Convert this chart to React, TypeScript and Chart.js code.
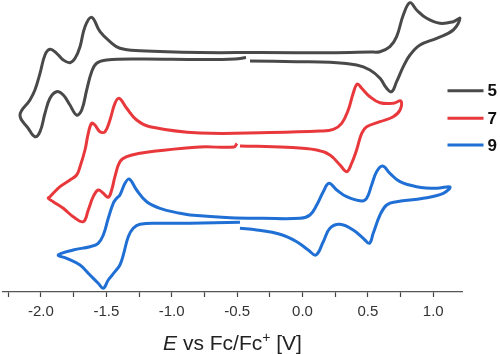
import React, { useEffect, useRef } from 'react';
import { Chart, registerables } from 'chart.js';

Chart.register(...registerables);

// ---- data (potential E in V vs Fc/Fc+, current in arbitrary offset units) ----
const seriesLabels = ['5', '7', '9'];
const seriesColors = ['#494949', '#e8383c', '#1f6fd4'];

const E5 = [-0.432, -0.516, -0.784, -1.243, -1.497, -1.574, -1.612, -1.650, -1.688, -1.727, -1.778, -1.829, -1.880, -1.931, -1.969, -2.007, -2.046, -2.097, -2.160,
  -2.084, -2.046, -2.007, -1.969, -1.931, -1.880, -1.829, -1.778, -1.739, -1.701, -1.663, -1.612, -1.548, -1.472, -1.396, -1.243, -0.784, -0.325, 0.210, 0.516, 0.593, 0.669, 0.720, 0.771, 0.822, 0.873, 0.950, 1.051, 1.153, 1.204,
  1.153, 1.026, 0.899, 0.822, 0.771, 0.720, 0.682, 0.644, 0.593, 0.516, 0.414, 0.210, -0.044, -0.401];
const I5 = [23.45, 23.30, 23.25, 23.30, 23.20, 22.87, 22.03, 20.20, 18.20, 17.70, 18.70, 19.70, 20.03, 19.37, 17.87, 16.03, 15.53, 16.37, 17.70,
  19.20, 20.20, 21.87, 23.70, 24.27, 23.87, 23.20, 22.93, 23.37, 24.53, 26.53, 27.47, 26.03, 25.03, 24.37, 24.13, 23.95, 23.95, 23.93, 24.0, 24.03, 24.53, 25.53, 27.70, 28.93, 28.20, 27.37, 26.87, 27.03, 27.37,
  26.20, 25.37, 24.70, 23.70, 22.53, 21.03, 20.03, 20.37, 21.37, 22.20, 22.70, 22.97, 23.03, 23.10];

const E7 = [-0.501, -0.524, -0.784, -1.165, -1.242, -1.344, -1.396, -1.434, -1.459, -1.485, -1.523, -1.562, -1.600, -1.638, -1.676, -1.753, -1.829, -1.906, -1.944,
  -1.931, -1.854, -1.778, -1.727, -1.701, -1.663, -1.638, -1.612, -1.587, -1.549, -1.510, -1.472, -1.434, -1.401, -1.344, -1.268, -1.166, -0.784, -0.249, 0.134, 0.236, 0.300, 0.350, 0.388, 0.419, 0.453, 0.516, 0.593, 0.694, 0.753,
  0.746, 0.694, 0.593, 0.491, 0.453, 0.414, 0.376, 0.338, 0.287, 0.210, 0.109, -0.121, -0.478];
const I7 = [14.85, 14.50, 14.50, 14.03, 13.87, 13.53, 13.03, 11.53, 10.20, 9.47, 9.87, 10.20, 9.53, 8.20, 7.03, 7.53, 8.37, 9.03, 9.37,
  9.53, 10.53, 11.20, 11.70, 12.53, 14.20, 15.87, 16.87, 16.70, 16.03, 16.03, 17.20, 18.87, 19.37, 18.37, 17.20, 16.53, 15.90, 15.95, 16.10, 16.27, 16.87, 18.20, 19.87, 20.80, 20.37, 19.53, 18.93, 18.87, 19.10,
  18.20, 17.53, 17.03, 16.53, 15.87, 14.20, 12.87, 12.03, 12.70, 13.70, 14.20, 14.47, 14.60];

const E9 = [-0.478, -0.860, -1.090, -1.243, -1.294, -1.332, -1.370, -1.396, -1.434, -1.485, -1.523, -1.562, -1.625, -1.701, -1.803, -1.867,
  -1.753, -1.625, -1.562, -1.523, -1.485, -1.447, -1.421, -1.396, -1.357, -1.324, -1.268, -1.191, -1.090, -0.937, -0.860, -0.554, -0.300, -0.019, 0.057, 0.109, 0.159, 0.203, 0.262, 0.338, 0.453, 0.491, 0.529, 0.567, 0.613, 0.669, 0.746, 0.873, 1.026, 1.128,
  1.077, 0.924, 0.720, 0.644, 0.593, 0.541, 0.511, 0.465, 0.388, 0.287, 0.210, 0.159, 0.103, 0.044, -0.044, -0.172, -0.350, -0.478];
const I9 = [6.97, 6.87, 6.87, 6.77, 6.37, 5.53, 3.70, 2.70, 2.03, 1.20, 0.37, 0.87, 1.70, 2.70, 3.37, 3.70,
  4.20, 4.53, 4.87, 5.70, 7.37, 8.87, 9.37, 9.70, 10.87, 11.30, 10.20, 9.03, 8.37, 7.87, 7.70, 7.43, 7.37, 7.37, 7.70, 8.70, 10.03, 10.87, 10.20, 9.53, 9.10, 9.37, 10.70, 12.03, 12.60, 11.87, 11.03, 10.53, 10.37, 10.50,
  9.87, 9.37, 9.03, 8.70, 7.70, 5.87, 4.87, 5.37, 6.20, 6.77, 6.37, 5.03, 3.70, 4.20, 5.03, 5.77, 6.20, 6.37];

const xMin = -2.29;
const xMax = 1.22;
const xStep = 0.25;
const labelStep = 0.5;
const yMin = 0;
const yMax = 29.2;
const titleParts = [
  { text: 'E', italic: true, sup: false },
  { text: ' vs Fc/Fc', italic: false, sup: false },
  { text: '+', italic: false, sup: true },
  { text: ' [V]', italic: false, sup: false },
];

const FONT = '"Liberation Sans", Arial, Helvetica, sans-serif';

const toPoints = (E: number[], I: number[]) => E.map((e, i) => ({ x: e, y: I[i] }));

const decorPlugin = {
  id: 'decor',
  afterDraw(chart: any) {
    const { ctx, chartArea } = chart;
    ctx.save();
    // axis title (mixed styles)
    const size = 21;
    const fonts = titleParts.map((p) =>
      p.sup ? `14px ${FONT}` : `${p.italic ? 'italic ' : ''}${size}px ${FONT}`
    );
    let total = 0;
    const widths = titleParts.map((p, i) => {
      ctx.font = fonts[i];
      const w = ctx.measureText(p.text).width;
      total += w;
      return w;
    });
    let x = (chartArea.left + chartArea.right) / 2 - total / 2;
    const baseY = chartArea.bottom + 58;
    ctx.fillStyle = '#222';
    ctx.textBaseline = 'alphabetic';
    ctx.textAlign = 'left';
    titleParts.forEach((p, i) => {
      ctx.font = fonts[i];
      ctx.fillText(p.text, x, p.sup ? baseY - 8 : baseY);
      x += widths[i];
    });

    // legend
    const legendY = [90.7, 118.3, 145];
    seriesLabels.forEach((lab, i) => {
      ctx.strokeStyle = seriesColors[i];
      ctx.lineWidth = 3;
      ctx.beginPath();
      ctx.moveTo(447.5, legendY[i]);
      ctx.lineTo(483.5, legendY[i]);
      ctx.stroke();
      ctx.font = `bold 17px ${FONT}`;
      ctx.fillStyle = '#111';
      ctx.textBaseline = 'middle';
      ctx.fillText(lab, 487.5, legendY[i] + 1);
    });
    ctx.restore();
  },
};

export default function App() {
  const ref = useRef<HTMLCanvasElement>(null);
  useEffect(() => {
    document.body.style.margin = '0';
    const canvas = ref.current;
    if (!canvas) return;
    const sets = [toPoints(E5, I5), toPoints(E7, I7), toPoints(E9, I9)];
    const chart = new Chart(canvas, {
      type: 'scatter',
      data: {
        datasets: sets.map((d, i) => ({
          label: seriesLabels[i],
          data: d,
          showLine: true,
          borderColor: seriesColors[i],
          backgroundColor: seriesColors[i],
          borderWidth: 3,
          pointRadius: 0,
          tension: 0.4,
          fill: false,
          clip: false as any,
        })),
      },
      options: {
        animation: false,
        responsive: false,
        devicePixelRatio: 1,
        layout: { padding: { left: 3, right: 38, top: 0, bottom: 27 } },
        plugins: { legend: { display: false }, tooltip: { enabled: false } },
        scales: {
          x: {
            type: 'linear',
            min: xMin,
            max: xMax,
            ticks: {
              stepSize: xStep,
              includeBounds: false,
              autoSkip: false,
              maxRotation: 0,
              padding: 6,
              color: '#333',
              font: { family: FONT, size: 15 },
              callback: (v: any) => {
                const n = Number(v);
                const k = n / labelStep;
                return Math.abs(k - Math.round(k)) < 1e-6 ? n.toFixed(1) : '';
              },
            },
            grid: { drawOnChartArea: false, drawTicks: true, tickLength: 5, color: '#444', tickWidth: 1.2 },
            border: { display: true, color: '#555', width: 1.3 },
          },
          y: { display: false, min: yMin, max: yMax },
        },
      } as any,
      plugins: [decorPlugin],
    });
    return () => chart.destroy();
  }, []);
  return (
    <div style={{ position: 'absolute', left: 0, top: 0, width: 500, height: 354, background: '#fff' }}>
      <canvas ref={ref} width={500} height={354} />
    </div>
  );
}
